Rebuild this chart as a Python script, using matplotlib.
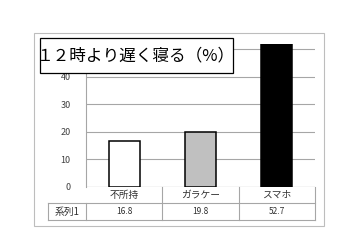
import matplotlib
matplotlib.use('Agg')
import matplotlib.pyplot as plt
from matplotlib.patches import Rectangle
from matplotlib.lines import Line2D
import matplotlib.transforms as mtrans

plt.rcParams['font.family'] = ['Noto Sans CJK JP', 'DejaVu Sans']

title = '１２時より遅く寝る（%）'
categories = ['不所持', 'ガラケー', 'スマホ']
values = [16.8, 19.8, 52.7]
series_name = '系列1'
yticks = [0, 10, 20, 30, 40]
hidden_grid = [50]  # gridline whose label sits under the title box
bar_colors = ['white', '#c0c0c0', 'black']

W, H = 360, 240
fig = plt.figure(figsize=(3.6, 2.4), dpi=100)

def px(x0, y0, x1, y1):
    # pixel box (top-left origin) -> figure fraction
    return [x0 / W, 1 - y1 / H, (x1 - x0) / W, (y1 - y0) / H]

# outer chart frame
fig.patches.append(Rectangle((34 / W, 1 - 226 / H), 290 / W, 193 / H,
                             transform=fig.transFigure, fill=False,
                             edgecolor='#bdbdbd', lw=0.8))

ax = fig.add_axes(px(86, 44, 315, 187))
x = range(len(categories))
ax.bar(x, values, width=0.41, color=bar_colors, edgecolor='black', lw=1.1, zorder=3)
ax.set_xlim(-0.5, len(categories) - 0.5)
ax.set_ylim(0, 51.8)
ax.set_yticks(yticks)
ax.set_xticks([])
ax.tick_params(axis='y', length=0, labelsize=6.5, colors='#404040', pad=11)
ax.yaxis.grid(True, color='#a6a6a6', lw=0.8)
for g in hidden_grid:
    ax.axhline(g, color='#a6a6a6', lw=0.8, zorder=0.5)
ax.set_axisbelow(True)
for s in ['top', 'right', 'bottom']:
    ax.spines[s].set_visible(False)
ax.spines['left'].set_color('#a6a6a6')
ax.spines['left'].set_linewidth(0.8)
ax.axhline(0, color='#a6a6a6', lw=0.8, zorder=2)

# data table under the axis
tr = mtrans.blended_transform_factory(ax.transData, ax.transAxes)
tra = ax.transAxes
r1, r2 = -0.112, -0.231
lc = '#a6a6a6'
def line(xs, ys, t):
    ax.add_line(Line2D(xs, ys, transform=t, color=lc, lw=0.8, clip_on=False))

for b in [i + 0.5 for i in x]:
    line([b, b], [0, r2], tr)
line([-0.166, 1], [r1, r1], tra)
line([-0.166, 1], [r2, r2], tra)
line([-0.166, -0.166], [r1, r2], tra)
line([0, 0], [r1, r2], tra)

for i, (c, v) in enumerate(zip(categories, values)):
    ax.text(i, r1 / 2, c, transform=tr, ha='center', va='center', fontsize=7, color='#303030')
    ax.text(i, (r1 + r2) / 2, f'{v:.1f}', transform=tr, ha='center', va='center',
            fontsize=6, color='#303030')
ax.text(-0.083, (r1 + r2) / 2, series_name, transform=tra, ha='center', va='center',
        fontsize=7, color='#303030')

# title box
fig.patches.append(Rectangle((40 / W, 1 - 73 / H), 193 / W, 35 / H,
                             transform=fig.transFigure, facecolor='white',
                             edgecolor='black', lw=0.9, zorder=5))
fig.text(136 / W, 1 - 55.5 / H, title, ha='center', va='center', fontsize=12,
         color='black', zorder=6)

fig.savefig('out.png', dpi=100)
